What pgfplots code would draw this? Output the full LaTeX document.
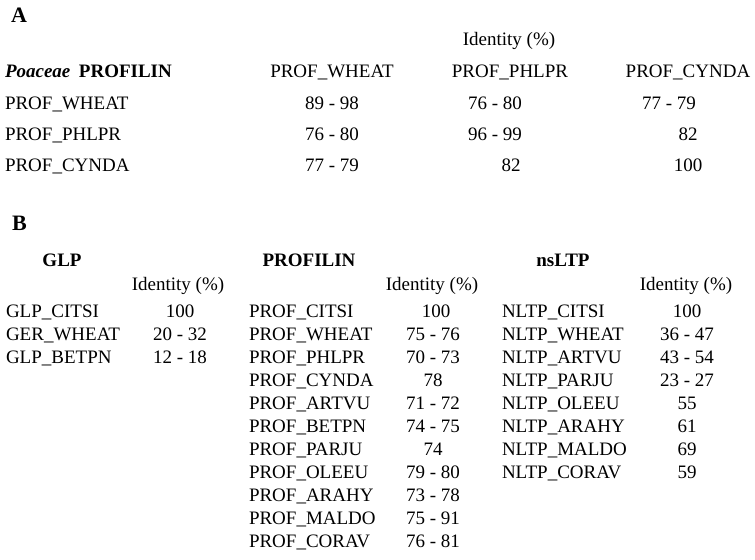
\documentclass[border=0pt]{standalone}
\usepackage{fontspec}
\setmainfont{Liberation Serif}
\usepackage{pgfplots}
\pgfplotsset{compat=1.18}
\begin{document}
\begin{tikzpicture}
\begin{axis}[
  scale only axis, width=755bp, height=560bp,
  xmin=0, xmax=755, ymin=0, ymax=560, y dir=reverse,
  axis lines=none, ticks=none, clip=false,
  txt/.style={only marks, mark=none, nodes near coords, point meta=explicit symbolic,
     every node near coord/.style={inner sep=0pt, outer sep=0pt, text=black,
       font=\fontsize{19bp}{23bp}\selectfont, anchor=#1}},
  big/.style={only marks, mark=none, nodes near coords, point meta=explicit symbolic,
     every node near coord/.style={inner sep=0pt, outer sep=0pt, text=black,
       font=\fontsize{22bp}{26bp}\selectfont\bfseries, anchor=base west}},
]
\path (rel axis cs:0,0) rectangle (rel axis cs:1,1);
% panel letters
\addplot[big] coordinates {(11,23) [A] (12,231) [B]};
% ---- Panel A ----
\addplot[txt=base west] coordinates {
 (5,78)  [\textbf{\textit{Poaceae}}\hspace{0.45em}\textbf{PROFILIN}]
 (5,110) [PROF\_WHEAT]
 (5,141) [PROF\_PHLPR]
 (5,172) [PROF\_CYNDA]
};
\addplot[txt=base] coordinates {
 (509,46)  [Identity (\%)]
 (332,78)  [PROF\_WHEAT]
 (510,78)  [PROF\_PHLPR]
 (688,78)  [PROF\_CYNDA]
 (332,110) [89 - 98]
 (495,110) [76 - 80]
 (669,110) [77 - 79]
 (332,141) [76 - 80]
 (495,141) [96 - 99]
 (688,141) [82]
 (332,172) [77 - 79]
 (511,172) [82]
 (688,172) [100]
};
% ---- Panel B headers ----
\addplot[txt=base] coordinates {
 (62,267)  [\textbf{GLP}]
 (309,267) [\textbf{PROFILIN}]
 (563,267) [\textbf{nsLTP}]
 (178,291) [Identity (\%)]
 (432,291) [Identity (\%)]
 (686,291) [Identity (\%)]
};
% GLP
\addplot[txt=base west] coordinates {
 (6,318) [GLP\_CITSI]
 (6,341) [GER\_WHEAT]
 (6,364) [GLP\_BETPN]
};
\addplot[txt=base] coordinates {
 (180,318) [100]
 (180,341) [20 - 32]
 (180,364) [12 - 18]
};
% PROFILIN
\addplot[txt=base west] coordinates {
 (249,318) [PROF\_CITSI]
 (249,341) [PROF\_WHEAT]
 (249,364) [PROF\_PHLPR]
 (249,387) [PROF\_CYNDA]
 (249,410) [PROF\_ARTVU]
 (249,433) [PROF\_BETPN]
 (249,456) [PROF\_PARJU]
 (249,479) [PROF\_OLEEU]
 (249,502) [PROF\_ARAHY]
 (249,525) [PROF\_MALDO]
 (249,548) [PROF\_CORAV]
};
\addplot[txt=base] coordinates {
 (436,318) [100]
 (433,341) [75 - 76]
 (433,364) [70 - 73]
 (433,387) [78]
 (433,410) [71 - 72]
 (433,433) [74 - 75]
 (433,456) [74]
 (433,479) [79 - 80]
 (433,502) [73 - 78]
 (433,525) [75 - 91]
 (433,548) [76 - 81]
};
% nsLTP
\addplot[txt=base west] coordinates {
 (502,318) [NLTP\_CITSI]
 (502,341) [NLTP\_WHEAT]
 (502,364) [NLTP\_ARTVU]
 (502,387) [NLTP\_PARJU]
 (502,410) [NLTP\_OLEEU]
 (502,433) [NLTP\_ARAHY]
 (502,456) [NLTP\_MALDO]
 (502,479) [NLTP\_CORAV]
};
\addplot[txt=base] coordinates {
 (687,318) [100]
 (687,341) [36 - 47]
 (687,364) [43 - 54]
 (687,387) [23 - 27]
 (687,410) [55]
 (687,433) [61]
 (687,456) [69]
 (687,479) [59]
};
\end{axis}
\end{tikzpicture}
\end{document}
